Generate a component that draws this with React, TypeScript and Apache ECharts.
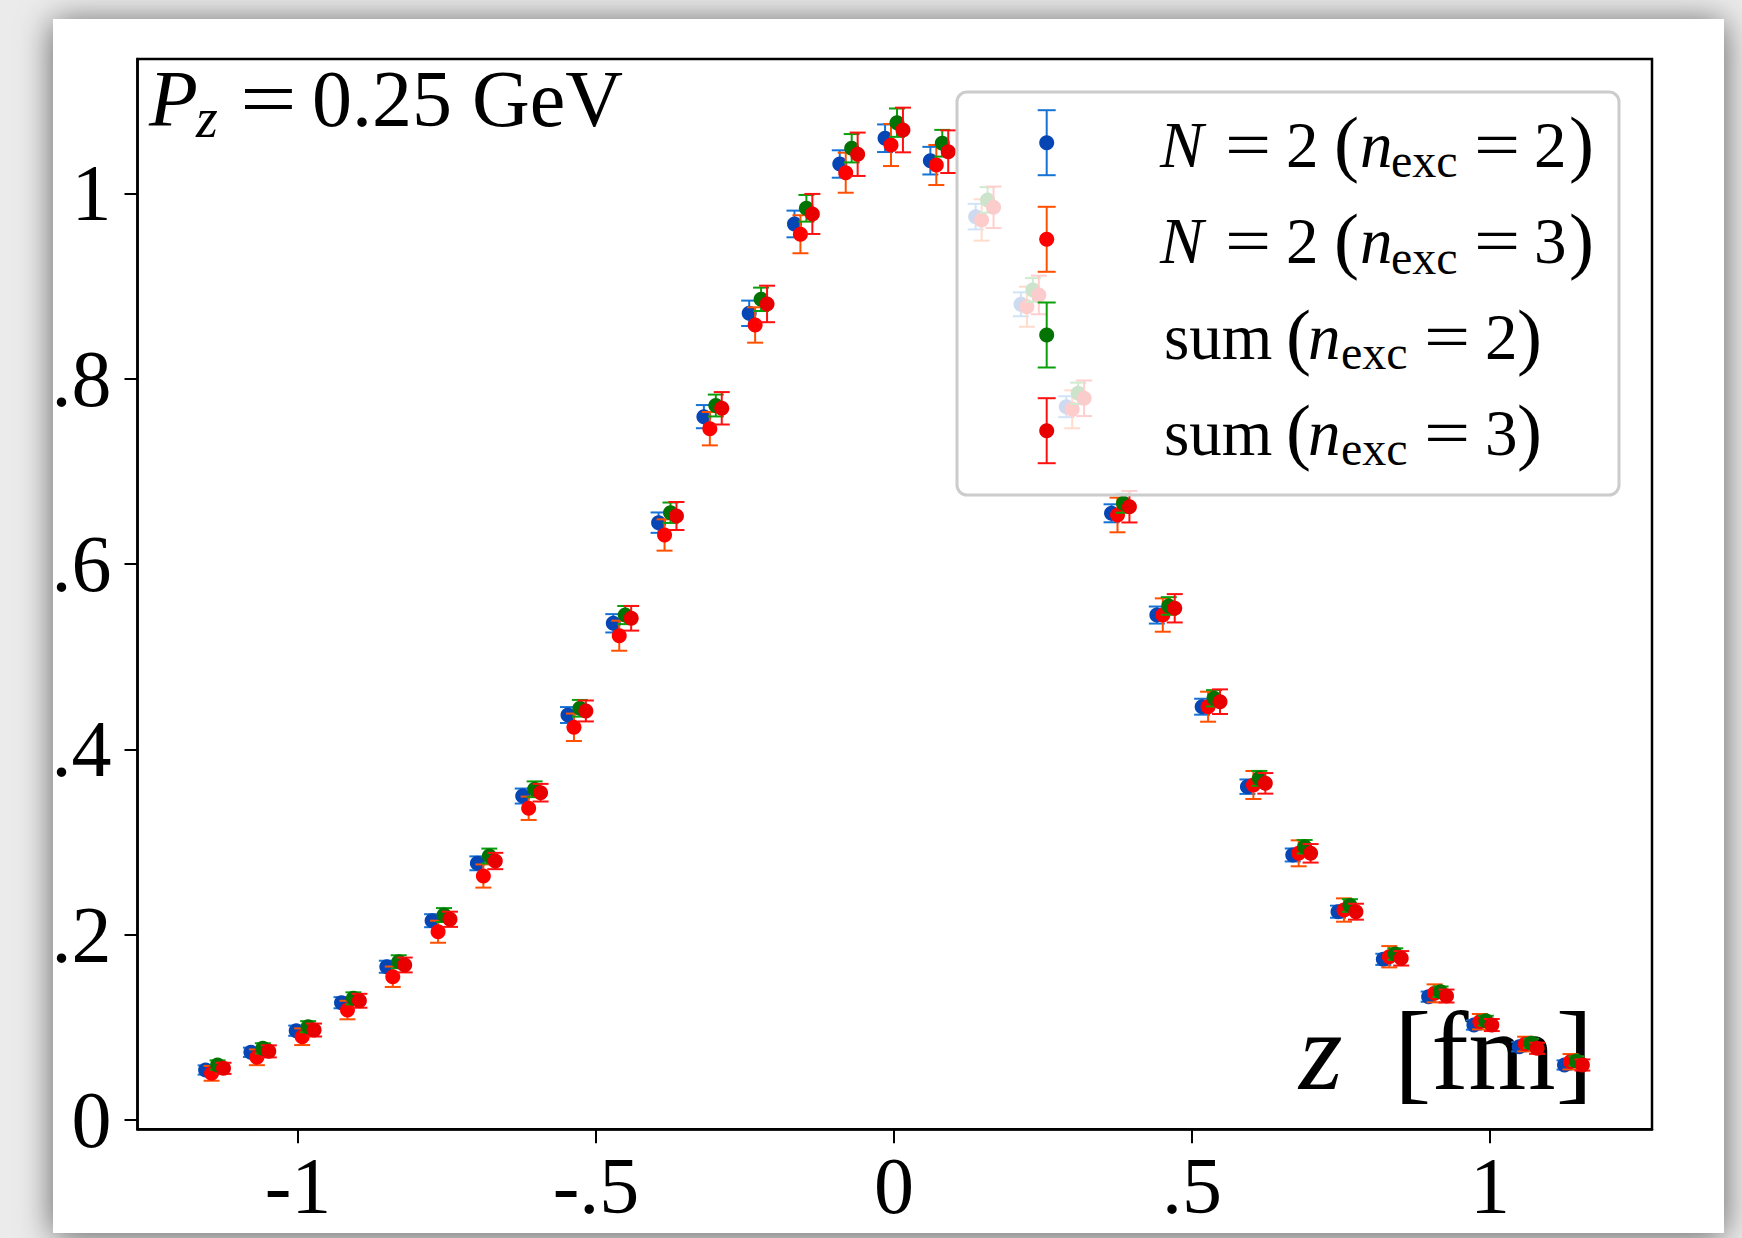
import React, { useEffect, useRef } from "react";
import * as echarts from "echarts";

// ---------------- data ----------------
const zValues = [
  -1.14, -1.064, -0.988, -0.912, -0.836, -0.76, -0.684, -0.608, -0.532, -0.456, -0.38,
  -0.304, -0.228, -0.152, -0.076, 0, 0.076, 0.152, 0.228, 0.304, 0.38, 0.456, 0.532,
  0.608, 0.684, 0.76, 0.836, 0.912, 0.988, 1.064, 1.14,
];

const n2e2Values = [
  0.054, 0.0731, 0.0964, 0.1266, 0.1654, 0.2151, 0.277, 0.3496, 0.437, 0.536, 0.6446,
  0.759, 0.8705, 0.9669, 1.0316, 1.0594, 1.0352, 0.9748, 0.8802, 0.7697, 0.6547, 0.5449,
  0.446, 0.3597, 0.286, 0.2248, 0.1734, 0.1331, 0.1025, 0.0791, 0.0594,
];
const n2e2Errors = [
  0.005, 0.005, 0.0055, 0.006, 0.0065, 0.007, 0.0075, 0.0081, 0.0086, 0.0099, 0.011,
  0.0125, 0.0137, 0.0144, 0.0148, 0.0149, 0.0149, 0.0138, 0.0129, 0.0113, 0.0097, 0.0092,
  0.0086, 0.0078, 0.007, 0.0065, 0.006, 0.0055, 0.005, 0.005, 0.005,
];

const n2e3Values = [
  0.0504, 0.0677, 0.0899, 0.1187, 0.1546, 0.2032, 0.2633, 0.3364, 0.4238, 0.5226, 0.6313,
  0.746, 0.8579, 0.9558, 1.0222, 1.0521, 1.0305, 0.9712, 0.8776, 0.7669, 0.6529, 0.5449,
  0.446, 0.3615, 0.2878, 0.2266, 0.1762, 0.1367, 0.1061, 0.082, 0.0629,
];
const n2e3Errors = [
  0.008, 0.0085, 0.009, 0.01, 0.011, 0.0119, 0.0125, 0.0126, 0.0148, 0.0162, 0.0169,
  0.018, 0.0191, 0.0205, 0.0216, 0.0227, 0.0216, 0.0223, 0.0216, 0.0205, 0.0187, 0.018,
  0.0162, 0.0151, 0.014, 0.0126, 0.0115, 0.0097, 0.0083, 0.0079, 0.0083,
];

const sumE2Values = [
  0.0594, 0.0774, 0.1007, 0.1313, 0.1708, 0.2212, 0.2849, 0.3569, 0.4443, 0.5449, 0.6553,
  0.771, 0.8856, 0.9838, 1.0486, 1.0762, 1.054, 0.9928, 0.8957, 0.7842, 0.6655, 0.5547,
  0.4551, 0.3687, 0.2949, 0.2315, 0.1791, 0.1384, 0.1072, 0.0828, 0.0637,
];
const sumE2Errors = [
  0.005, 0.0055, 0.006, 0.0065, 0.007, 0.0075, 0.008, 0.0085, 0.009, 0.0098, 0.011,
  0.0118, 0.0126, 0.0144, 0.0153, 0.0153, 0.0144, 0.0138, 0.0128, 0.0115, 0.0102, 0.0095,
  0.0088, 0.008, 0.0073, 0.0068, 0.0062, 0.0057, 0.0053, 0.005, 0.005,
];

const sumE3Values = [
  0.0558, 0.0741, 0.0971, 0.1287, 0.1673, 0.2166, 0.2795, 0.3532, 0.4414, 0.5414, 0.6518,
  0.768, 0.8806, 0.9777, 1.0421, 1.0683, 1.0449, 0.9849, 0.8903, 0.7788, 0.6618, 0.5522,
  0.4514, 0.3633, 0.2878, 0.2248, 0.1745, 0.1338, 0.1025, 0.0774, 0.0594,
];
const sumE3Errors = [
  0.006, 0.0065, 0.007, 0.0075, 0.008, 0.0082, 0.0088, 0.0095, 0.0113, 0.0133, 0.0151,
  0.0175, 0.0197, 0.0216, 0.0234, 0.0241, 0.023, 0.0224, 0.0208, 0.0192, 0.017, 0.0153,
  0.0133, 0.0111, 0.01, 0.0086, 0.0078, 0.007, 0.0065, 0.006, 0.006,
];

// horizontal shift of each data set (avoids overlap, as in the original plot)
const seriesShifts = [-0.015, -0.005, 0.005, 0.015];

const xTicks = [-1, -0.5, 0, 0.5, 1];
const xTickLabels = ["-1", "-.5", "0", ".5", "1"];
const yTicks = [0, 0.2, 0.4, 0.6, 0.8, 1];
const yTickLabels = ["0", ".2", ".4", ".6", ".8", "1"];

const legendKinds = ["N", "N", "sum", "sum"];
const legendExc = ["2", "3", "2", "3"];

// ---------------- styling ----------------
const SERIF = '"Liberation Serif", "Times New Roman", serif';
const markerColors = ["#0645b4", "#ff0000", "#037303", "#e80000"];
const barColors = ["#1673d6", "#ff5000", "#0aa00a", "#ff1010"];
const seriesNames = [
  "N = 2 (n_exc = 2)",
  "N = 2 (n_exc = 3)",
  "sum (n_exc = 2)",
  "sum (n_exc = 3)",
];
const seriesValues = [n2e2Values, n2e3Values, sumE2Values, sumE3Values];
const seriesErrors = [n2e2Errors, n2e3Errors, sumE2Errors, sumE3Errors];

const GRID = { left: 137.5, top: 59, width: 1514.5, height: 1070.3 };
const X_MIN = -1.2693;
const X_MAX = 1.2718;
const Y_MIN = -0.01;
const Y_MAX = 1.1449;

const CAP = 8;
const R = 7.5;

function labelFor(ticks: number[], labels: string[]) {
  return (v: number) => {
    for (let i = 0; i < ticks.length; i++) {
      if (Math.abs(ticks[i] - v) < 1e-6) return labels[i];
    }
    return "";
  };
}

// text placed by its baseline (svg central baseline ~0.3374em above baseline)
function txt(
  text: string,
  x: number,
  baseline: number,
  size: number,
  opts: { italic?: boolean; scaleX?: number; z?: number } = {}
) {
  return {
    type: "text",
    x,
    y: baseline - 0.3374 * size,
    z: opts.z ?? 20,
    scaleX: opts.scaleX ?? 1,
    silent: true,
    style: {
      text,
      font: `${opts.italic ? "italic " : ""}${size}px ${SERIF}`,
      fill: "#000",
      align: "left",
      verticalAlign: "middle",
      textAlign: "left",
      textVerticalAlign: "middle",
    },
  };
}

function legendRow(i: number, center: number) {
  const base = center + 24;
  const col = 1046.7;
  const els: any[] = [
    {
      type: "line",
      z: 21,
      silent: true,
      shape: { x1: col, y1: center - 32.5, x2: col, y2: center + 32.5 },
      style: { stroke: barColors[i], lineWidth: 2 },
    },
    {
      type: "line",
      z: 21,
      silent: true,
      shape: { x1: col - 9, y1: center - 32.5, x2: col + 9, y2: center - 32.5 },
      style: { stroke: barColors[i], lineWidth: 2 },
    },
    {
      type: "line",
      z: 21,
      silent: true,
      shape: { x1: col - 9, y1: center + 32.5, x2: col + 9, y2: center + 32.5 },
      style: { stroke: barColors[i], lineWidth: 2 },
    },
    {
      type: "circle",
      z: 22,
      silent: true,
      shape: { cx: col, cy: center, r: R },
      style: { fill: markerColors[i] },
    },
  ];
  const EQ = 1.26;
  if (legendKinds[i] === "N") {
    els.push(
      txt("N", 1160, base, 65, { italic: true }),
      txt("=", 1225, base, 65, { scaleX: EQ }),
      txt("2", 1286, base, 65),
      txt("(", 1334, base + 1.5, 75),
      txt("n", 1360, base, 65, { italic: true }),
      txt("exc", 1391, base + 10, 48),
      txt("=", 1474, base, 65, { scaleX: EQ }),
      txt(legendExc[i], 1534, base, 65),
      txt(")", 1569, base + 1.5, 75)
    );
  } else {
    els.push(
      txt("sum", 1164, base, 65),
      txt("(", 1286, base + 1.5, 75),
      txt("n", 1308, base, 65, { italic: true }),
      txt("exc", 1341, base + 10, 48),
      txt("=", 1424, base, 65, { scaleX: EQ }),
      txt(legendExc[i], 1485, base, 65),
      txt(")", 1517, base + 1.5, 75)
    );
  }
  return els;
}

export default function App() {
  const ref = useRef<HTMLDivElement>(null);

  useEffect(() => {
    if (!ref.current) return;
    const chart = echarts.init(ref.current, undefined, { renderer: "svg" });

    const series = seriesValues.map((vals, s) => ({
      type: "custom",
      name: seriesNames[s],
      z: 2 + s * 0.01,
      silent: true,
      clip: false,
      encode: { x: 0, y: 1 },
      data: zValues.map((z, i) => [z + seriesShifts[s], vals[i], seriesErrors[s][i]]),
      renderItem: (params: any, api: any) => {
        const x = api.value(0);
        const y = api.value(1);
        const e = api.value(2);
        const c = api.coord([x, y]);
        const top = api.coord([x, y + e]);
        const bot = api.coord([x, y - e]);
        const ls = { stroke: barColors[s], lineWidth: 2 };
        return {
          type: "group",
          children: [
            { type: "line", shape: { x1: c[0], y1: top[1], x2: c[0], y2: bot[1] }, style: ls },
            { type: "line", shape: { x1: c[0] - CAP, y1: top[1], x2: c[0] + CAP, y2: top[1] }, style: ls },
            { type: "line", shape: { x1: c[0] - CAP, y1: bot[1], x2: c[0] + CAP, y2: bot[1] }, style: ls },
            { type: "circle", shape: { cx: c[0], cy: c[1], r: R }, style: { fill: markerColors[s] } },
          ],
        };
      },
    }));

    const legendCenters = [142.7, 239.3, 335, 430.7];
    const legendEls: any[] = [
      {
        type: "rect",
        z: 19,
        silent: true,
        shape: { x: 957, y: 92, width: 662, height: 403, r: 10 },
        style: { fill: "rgba(255,255,255,0.8)", stroke: "#cccccc", lineWidth: 3 },
      },
    ];
    legendCenters.forEach((c, i) => legendEls.push(...legendRow(i, c)));

    const option: any = {
      animation: false,
      backgroundColor: "#ebebeb",
      grid: {
        ...GRID,
        show: true,
        borderColor: "#000",
        borderWidth: 2.5,
        backgroundColor: "transparent",
        containLabel: false,
      },
      xAxis: {
        type: "value",
        min: X_MIN,
        max: X_MAX,
        splitLine: { show: false },
        axisLine: { show: true, onZero: false, lineStyle: { color: "#000", width: 2.5 } },
        axisTick: {
          show: true,
          inside: false,
          length: 14,
          customValues: xTicks,
          lineStyle: { color: "#000", width: 2 },
        },
        axisLabel: {
          show: true,
          customValues: xTicks,
          formatter: labelFor(xTicks, xTickLabels),
          margin: 17,
          color: "#000",
          fontFamily: SERIF,
          fontSize: 80,
        },
      },
      yAxis: {
        type: "value",
        min: Y_MIN,
        max: Y_MAX,
        splitLine: { show: false },
        axisLine: { show: true, onZero: false, lineStyle: { color: "#000", width: 2.5 } },
        axisTick: {
          show: true,
          inside: false,
          length: 13,
          customValues: yTicks,
          lineStyle: { color: "#000", width: 2 },
        },
        axisLabel: {
          show: true,
          customValues: yTicks,
          formatter: labelFor(yTicks, yTickLabels),
          margin: 26,
          color: "#000",
          fontFamily: SERIF,
          fontSize: 80,
        },
      },
      graphic: {
        elements: [
          {
            type: "rect",
            z: -10,
            silent: true,
            shape: { x: 53, y: 19, width: 1671, height: 1214 },
            style: {
              fill: "#ffffff",
              shadowBlur: 34,
              shadowColor: "rgba(0,0,0,0.6)",
              shadowOffsetX: 0,
              shadowOffsetY: 3,
            },
          },
          // title  P_z = 0.25 GeV
          txt("P", 149, 126, 80, { italic: true, z: 5 }),
          txt("z", 196, 137, 56, { italic: true, z: 5 }),
          txt("=", 240, 126, 80, { scaleX: 1.26, z: 5 }),
          txt("0.25 GeV", 312, 126, 80, { z: 5 }),
          // axis label  z [fm]
          txt("z", 1299, 1089, 112, { italic: true, z: 1 }),
          txt("[fm]", 1394, 1089, 112, { z: 1 }),
          ...legendEls,
        ],
      },
      series,
    };

    chart.setOption(option);
    return () => chart.dispose();
  }, []);

  return (
    <div
      ref={ref}
      style={{ position: "fixed", left: 0, top: 0, width: 1742, height: 1238 }}
    />
  );
}
